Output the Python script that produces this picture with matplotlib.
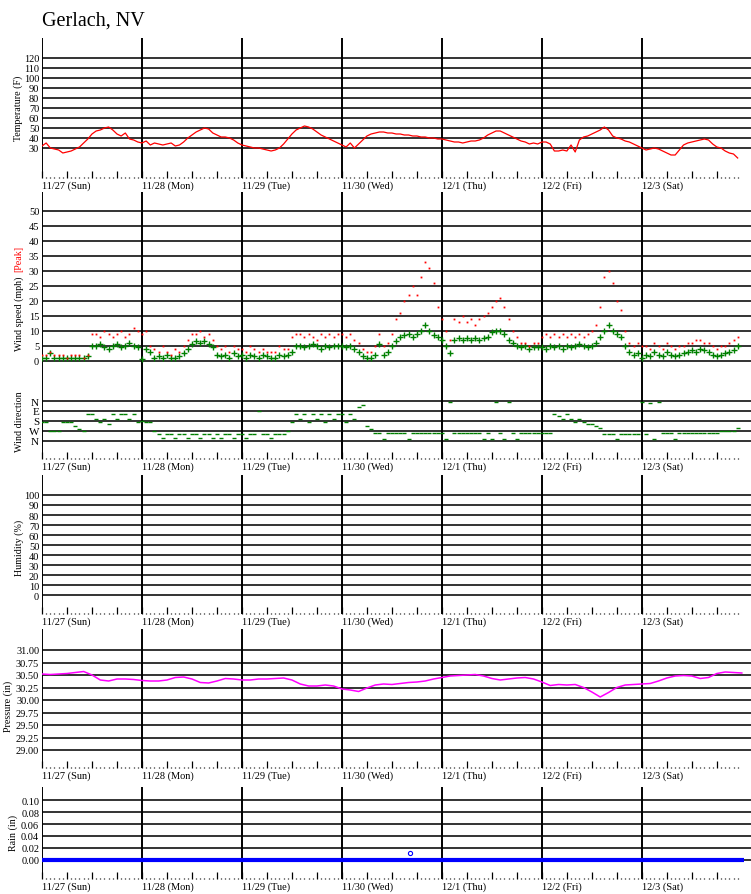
import matplotlib
matplotlib.use('Agg')
import matplotlib.pyplot as plt
import numpy as np
from matplotlib.ticker import FixedLocator

plt.rcParams['font.family'] = ['Liberation Serif', 'DejaVu Serif']

# ---------------- data ----------------
station = 'Gerlach, NV'
day_labels = ['11/27 (Sun)', '11/28 (Mon)', '11/29 (Tue)', '11/30 (Wed)',
              '12/1 (Thu)', '12/2 (Fri)', '12/3 (Sat)']

# hourly temperature (F), hours 0..167 from 11/27 00:00
temp_f = [32, 35, 30, 29, 28, 25, 26, 27, 29, 31, 35, 39, 44, 47, 48, 50, 51, 48, 44, 42, 45, 39, 38, 36,
          35, 37, 33, 35, 34, 33, 34, 35, 32, 33, 36, 40, 43, 46, 48, 50, 49, 45, 43, 41, 41, 40, 38, 35,
          33, 32, 31, 30, 30, 29, 28, 27, 28, 30, 34, 39, 44, 48, 50, 52, 51, 49, 46, 43, 41, 39, 37, 35,
          33, 31, 35, 30, 34, 38, 42, 44, 45, 46, 46, 45, 45, 44, 44, 43, 43, 42, 42, 41, 41, 40, 40, 39,
          39, 38, 37, 36, 36, 35, 36, 37, 37, 38, 40, 43, 45, 47, 47, 45, 43, 41, 39, 37, 36, 34, 35, 34,
          36, 36, 34, 27, 27, 28, 27, 33, 26, 38, 41, 42, 44, 46, 48, 51, 48, 42, 40, 39, 37, 36, 34, 32,
          30, 28, 29, 30, 29, 27, 25, 23, 23, 28, 33, 35, 36, 37, 38, 39, 38, 34, 31, 30, 27, 25, 24, 20]

# hourly mean wind speed (mph)
wind_mph = [1, 1, 2.5, 1, 1, 1, 1, 1, 1, 1, 1, 1.5, 5, 5, 5.5, 4.5, 4, 5, 5.5, 4.5, 5, 6, 5, 4.5,
            0.5, 4, 3, 1, 1.5, 1, 2, 1, 1, 1.5, 2.5, 4, 5.5, 6.5, 6, 6.5, 5.5, 4.5, 2, 1.5, 2, 1, 2.5, 1.5,
            2, 1, 2, 1.5, 1, 2, 1.5, 1, 1, 2, 1.5, 2, 3, 5, 5, 4.5, 5, 5.5, 5, 4, 5, 4.5, 5, 5,
            5, 4.5, 5, 4, 3, 1.5, 1, 1, 2, 5.5, 2, 3, 5, 6.5, 8, 8.5, 9, 8, 9, 10, 12, 10, 8.5, 8,
            7, 5, 2.5, 7, 7.5, 7, 7.5, 7, 7.5, 7, 7.5, 8, 9.5, 10, 10, 9, 7, 6, 5, 4.5, 5, 4, 4.5, 4.5,
            4.5, 4, 5, 4.5, 5, 4, 5, 4.5, 5, 5.5, 5, 4.5, 5, 6, 8, 10, 12, 10, 9, 8, 5, 3, 2, 2.5,
            1, 2, 1.5, 3, 2, 1.5, 3, 2, 1.5, 2, 2.5, 3, 3.5, 3, 4, 3.5, 3, 2, 1.5, 2, 2.5, 3, 3.5, 5]

# hourly peak wind (mph)
peak_mph = [2, 2, 3, 2, 2, 2, 1, 2, 2, 2, 1, 2, 9, 9, 8, 10, 9, 8, 9, 10, 8, 9, 11, 10,
            9, 10, 5, 4, 3, 5, 3, 2, 4, 3, 5, 7, 9, 9, 10, 8, 9, 7, 5, 4, 5, 3, 5, 4,
            4, 3, 5, 4, 3, 4, 3, 3, 3, 5, 4, 4, 8, 9, 9, 8, 9, 8, 7, 9, 8, 9, 8, 9,
            9, 8, 9, 7, 6, 4, 3, 3, 5, 9, 5, 6, 9, 14, 16, 20, 22, 25, 22, 28, 33, 31, 26, 18,
            14, 10, 7, 14, 13, 15, 13, 14, 12, 14, 15, 16, 18, 20, 21, 18, 14, 10, 8, 6, 6, 5, 6, 6,
            8, 9, 8, 9, 8, 9, 8, 9, 8, 9, 8, 9, 10, 12, 18, 28, 30, 26, 20, 17, 10, 6, 5, 6,
            5, 5, 4, 6, 5, 4, 6, 5, 4, 5, 5, 6, 6, 7, 7, 6, 6, 5, 4, 5, 5, 6, 7, 8]

# hourly wind direction, compass rows (0=N, 1=W, 2=S, 3=E, 4=N)
wind_dir = [1.9, 1.9, 1.0, 1.0, 1.0, 1.9, 1.9, 1.9, 1.5, 1.2, 1.0, 2.7, 2.7, 2.2, 1.9, 2.2, 1.7, 2.7, 2.2, 2.7, 2.7, 2.2, 2.7, 1.9,
            2.0, 1.9, 1.9, 1.0, 0.7, 0.3, 0.7, 0.7, 0.3, 0.7, 0.7, 0.3, 0.7, 0.7, 0.3, 0.7, 0.7, 0.3, 0.7, 0.3, 0.7, 0.7, 0.3, 0.7,
            0.7, 0.3, 0.7, 0.7, 3.0, 0.7, 0.7, 0.3, 0.7, 0.7, 0.7, 1.0, 1.9, 2.7, 2.2, 2.7, 1.9, 2.7, 2.2, 2.7, 1.9, 2.7, 2.2, 2.7,
            2.7, 1.9, 2.7, 2.2, 3.4, 3.6, 1.5, 1.2, 0.8, 0.8, 0.2, 0.8, 0.8, 0.8, 0.8, 0.8, 0.2, 0.8, 0.8, 0.8, 0.8, 0.8, 0.8, 0.8,
            0.8, 0.2, 3.9, 0.8, 0.8, 0.8, 0.8, 0.8, 0.8, 0.8, 0.2, 0.8, 0.2, 3.9, 0.8, 0.2, 3.9, 0.8, 0.2, 0.8, 0.8, 0.8, 0.8, 0.8,
            0.8, 0.8, 0.8, 2.7, 2.5, 2.2, 2.7, 2.2, 1.9, 2.2, 1.9, 1.7, 1.7, 1.5, 1.3, 0.75, 0.75, 0.75, 0.2, 0.75, 0.75, 0.75, 0.75, 0.75,
            3.9, 0.75, 3.8, 0.2, 3.9, 0.8, 0.85, 0.85, 0.2, 0.85, 0.85, 0.85, 0.85, 0.85, 0.85, 0.85, 0.85, 0.85, 0.85, 1.0, 1.0, 1.0, 1.0, 1.3]
dir_labels = ['N', 'W', 'S', 'E', 'N']

# pressure (in), every 2 hours, hours 0..168
pressure_in = [30.52, 30.51, 30.52, 30.53, 30.55, 30.57, 30.50, 30.40, 30.38, 30.42, 30.42, 30.41,
               30.39, 30.38, 30.38, 30.40, 30.45, 30.46, 30.42, 30.35, 30.34, 30.38, 30.43, 30.42,
               30.40, 30.40, 30.42, 30.42, 30.43, 30.44, 30.40, 30.32, 30.28, 30.28, 30.30, 30.28,
               30.22, 30.20, 30.17, 30.24, 30.30, 30.32, 30.31, 30.33, 30.35, 30.36, 30.38, 30.42,
               30.45, 30.48, 30.49, 30.50, 30.51, 30.48, 30.43, 30.40, 30.42, 30.44, 30.45, 30.42,
               30.36, 30.29, 30.31, 30.30, 30.31, 30.25, 30.16, 30.06, 30.15, 30.25, 30.30, 30.31,
               30.32, 30.33, 30.38, 30.44, 30.48, 30.49, 30.48, 30.43, 30.45, 30.53, 30.56, 30.55, 30.54]

# rain (in)
rain_hours = [0.0, 168.5]
rain_in = [0.00, 0.00]
rain_mark_hour = [88.3]
rain_mark_in = [0.012]

temp_ticks = [30, 40, 50, 60, 70, 80, 90, 100, 110, 120]
wind_ticks = [0, 5, 10, 15, 20, 25, 30, 35, 40, 45, 50]
hum_ticks = [0, 10, 20, 30, 40, 50, 60, 70, 80, 90, 100]
pres_ticks = [29.00, 29.25, 29.50, 29.75, 30.00, 30.25, 30.50, 30.75, 31.00]
rain_ticks = [0.00, 0.02, 0.04, 0.06, 0.08, 0.10]

# ---------------- layout ----------------
W, H = 751, 895
fig = plt.figure(figsize=(W / 100, H / 100), dpi=100)
XMAX = 170.2
hours = np.arange(len(temp_f))
whours = np.arange(len(wind_mph))
phours = np.arange(len(pressure_in)) * 2
day_pos = [24 * i for i in range(len(day_labels))]
major_pos = list(range(0, 163, 6))
minor_pos = list(range(0, 168))


def box(top, bottom):
    return [42 / W, 1 - bottom / H, (W - 42) / W, (bottom - top) / H]


def style(ax, yticks, ylabels, ylim, show_x=True, ysize=7.5):
    ax.set_xlim(0, XMAX)
    ax.set_ylim(*ylim)
    for s in ax.spines.values():
        s.set_visible(False)
    ax.set_yticks(yticks)
    ax.set_yticklabels(ylabels)
    ax.tick_params(axis='y', length=0, pad=2, labelsize=ysize)
    ax.set_axisbelow(True)
    ax.grid(axis='y', color='#111111', lw=1.2, zorder=0)
    ax.grid(axis='x', visible=False)
    for d in day_pos:
        ax.axvline(d, color='black', lw=1.4, zorder=1)
    if show_x:
        labs = []
        for p in major_pos:
            labs.append(day_labels[p // 24] if p % 24 == 0 else '')
        ax.set_xticks(major_pos)
        ax.set_xticklabels(labs)
        ax.xaxis.set_minor_locator(FixedLocator(minor_pos))
        ax.tick_params(axis='x', which='major', direction='in', length=5, width=0.9,
                       pad=2, labelsize=7.5)
        ax.tick_params(axis='x', which='minor', direction='in', length=1.0, width=0.9)
        for lab in ax.get_xticklabels():
            lab.set_ha('left')
    else:
        ax.set_xticks([])


fig.text(42 / W, 1 - 26 / H, station, fontsize=14.5, va='baseline', ha='left')

# temperature
ax_t = fig.add_axes(box(39, 179))
style(ax_t, temp_ticks, [str(v) for v in temp_ticks], (0, 140))
ax_t.plot(hours, temp_f, color='#ff0000', lw=0.9, zorder=3)
fig.text(18 / W, 1 - 108 / H, 'Temperature (F)', rotation=90, ha='center', va='center', fontsize=7.2)

# wind speed
ax_w = fig.add_axes(box(193, 380))
style(ax_w, wind_ticks, [str(v) for v in wind_ticks], (-6, 56.33), show_x=False)
ax_w.plot(whours, wind_mph, linestyle='none', marker='+', ms=5, mew=1, color='#008000', zorder=3)
ax_w.plot(whours, peak_mph, linestyle='none', marker='s', ms=1.3, mew=0, color='#ff0000', zorder=4)
fig.text(19 / W, 1 - 314 / H, 'Wind speed (mph)', rotation=90, ha='center', va='center', fontsize=7.2)
fig.text(19 / W, 1 - 259 / H, '[Peak]', rotation=90, ha='center', va='center', fontsize=7.2, color='#ff0000')

# wind direction
ax_d = fig.add_axes(box(380, 460))
style(ax_d, [0, 1, 2, 3, 4], dir_labels, (-1.8, 6.2), ysize=8)
ax_d.plot(whours, wind_dir, linestyle='none', marker='_', ms=3, mew=1, color='#008000', zorder=3)
fig.text(19 / W, 1 - 422 / H, 'Wind direction', rotation=90, ha='center', va='center', fontsize=7.2)

# humidity (no data)
ax_h = fig.add_axes(box(476, 615))
style(ax_h, hum_ticks, [str(v) for v in hum_ticks], (-19, 120))
fig.text(19 / W, 1 - 548 / H, 'Humidity (%)', rotation=90, ha='center', va='center', fontsize=7.2)

# pressure
ax_p = fig.add_axes(box(630, 769))
style(ax_p, pres_ticks, ['%.2f' % v for v in pres_ticks], (28.64, 31.42))
ax_p.plot(phours, pressure_in, color='#ff00ff', lw=1.1, zorder=3)
fig.text(8 / W, 1 - 706 / H, 'Pressure (in)', rotation=90, ha='center', va='center', fontsize=7.2)

# rain
ax_r = fig.add_axes(box(788, 880))
style(ax_r, rain_ticks, ['%.2f' % v for v in rain_ticks], (-0.0317, 0.1217))
ax_r.plot(rain_hours, rain_in, color='#0000ff', lw=3, solid_capstyle='butt', zorder=3)
ax_r.plot(rain_mark_hour, rain_mark_in, linestyle='none', marker='o', ms=3, mfc='none',
          mec='#0000ff', mew=0.8, zorder=3)
fig.text(13 / W, 1 - 833 / H, 'Rain (in)', rotation=90, ha='center', va='center', fontsize=7.2)

fig.savefig('out.png', dpi=100)
